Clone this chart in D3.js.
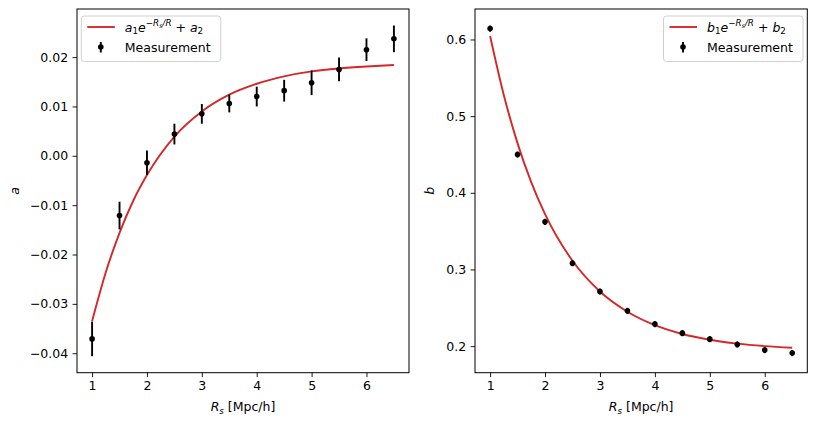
<!DOCTYPE html>
<html>
<head>
<meta charset="utf-8">
<script src="https://cdn.jsdelivr.net/npm/d3@7"></script>
<style>
  body { margin: 0; background: #fff; }
  text { font-family: "DejaVu Sans", sans-serif; fill: #000; }
</style>
</head>
<body>
<div id="chart"></div>
<script>
// measurement radii
const rs = [1, 1.5, 2, 2.5, 3, 3.5, 4, 4.5, 5, 5.5, 6, 6.5];
// left panel: a with error bars
const aValues = [-0.0371, -0.0121, -0.0014, 0.0044, 0.0085, 0.0106, 0.0120, 0.0132, 0.0148, 0.0175, 0.0215, 0.0237];
const aErrors = [0.0035, 0.0028, 0.0025, 0.0021, 0.0020, 0.0018, 0.0020, 0.0022, 0.0025, 0.0024, 0.0023, 0.0027];
// right panel: b (error bars hidden under the markers)
const bValues = [0.6142, 0.4499, 0.3621, 0.3082, 0.2713, 0.2460, 0.2287, 0.2169, 0.2091, 0.2022, 0.1948, 0.1909];
const bErrors = [0.004, 0.004, 0.004, 0.004, 0.004, 0.004, 0.004, 0.004, 0.004, 0.004, 0.004, 0.004];
// fitted curves
const fitX = [1, 1.25, 1.5, 1.75, 2, 2.5, 3, 3.5, 4, 4.5, 5, 5.5, 6, 6.5];
const aFit = [-0.0335, -0.0236, -0.0156, -0.0091, -0.0039, 0.0039, 0.0090, 0.0124, 0.0146, 0.0161, 0.0171, 0.0177, 0.0181, 0.0184];
const bFit = [0.6046, 0.5273, 0.4645, 0.4136, 0.3722, 0.3113, 0.2712, 0.2448, 0.2273, 0.2158, 0.2083, 0.2033, 0.2000, 0.1978];
const xTicks = [1, 2, 3, 4, 5, 6];
const aTicks = [-0.04, -0.03, -0.02, -0.01, 0.00, 0.01, 0.02];
const bTicks = [0.2, 0.3, 0.4, 0.5, 0.6];

const W = 817, H = 424;
const FS = 12.5;
const RED = "#d62728";

const svg = d3.select("#chart").append("svg")
  .attr("width", W).attr("height", H);

// mathtext-like label: parts = [text, size factor, baseline shift, italic]
function mathText(g, x, y, parts, anchor) {
  const t = g.append("text")
    .attr("x", x).attr("y", y)
    .attr("text-anchor", anchor || "start")
    .style("white-space", "pre");
  let cur = 0;
  parts.forEach(([s, k, shift, it]) => {
    t.append("tspan")
      .attr("dy", shift - cur)
      .attr("font-size", FS * k)
      .attr("font-style", it ? "italic" : "normal")
      .text(s);
    cur = shift;
  });
  return t;
}

function fitParts(sym) {
  return [
    [sym, 1, 0, true], ["1", 0.7, 2.8, false], ["e", 1, 0, true],
    ["−", 0.7, -5.5, false], ["R", 0.7, -5.5, true], ["s", 0.5, -3.8, true],
    ["/R", 0.7, -5.5, true], [" + ", 1, 0, false], [sym, 1, 0, true], ["2", 0.7, 2.8, false]
  ];
}

function panel(opts) {
  const { left, right, top, bottom, yVals, yErr, fit, yTicks, fmt, yLabel, yLabelX, legendX, sym } = opts;
  const g = svg.append("g");

  const x = d3.scaleLinear().domain([0.725, 6.775]).range([left, right]);
  const lo = d3.min(yVals, (d, i) => d - yErr[i]);
  const hi = d3.max(yVals, (d, i) => d + yErr[i]);
  const pad = (hi - lo) * 0.05;
  const y = d3.scaleLinear().domain([lo - pad, hi + pad]).range([bottom, top]);

  // fit line
  const line = d3.line()
    .x((d, i) => x(fitX[i]))
    .y((d) => y(d))
    .curve(d3.curveMonotoneX);
  g.append("path")
    .datum(fit)
    .attr("fill", "none")
    .attr("stroke", RED)
    .attr("stroke-width", 1.9)
    .attr("d", line);

  // error bars
  g.selectAll(".err")
    .data(yVals)
    .enter()
    .append("line")
    .attr("x1", (d, i) => x(rs[i]))
    .attr("x2", (d, i) => x(rs[i]))
    .attr("y1", (d, i) => y(d - yErr[i]))
    .attr("y2", (d, i) => y(d + yErr[i]))
    .attr("stroke", "#000")
    .attr("stroke-width", 1.9);

  g.selectAll(".pt")
    .data(yVals)
    .enter()
    .append("circle")
    .attr("cx", (d, i) => x(rs[i]))
    .attr("cy", (d) => y(d))
    .attr("r", 2.8)
    .attr("fill", "#000");

  // axes
  const xAxis = g.append("g")
    .attr("transform", `translate(0, ${bottom})`)
    .call(d3.axisBottom(x).tickValues(xTicks).tickFormat(d3.format("d")).tickSize(4.4).tickPadding(4.4));
  const yAxis = g.append("g")
    .attr("transform", `translate(${left}, 0)`)
    .call(d3.axisLeft(y).tickValues(yTicks).tickFormat(fmt).tickSize(4.4).tickPadding(4.4));
  [xAxis, yAxis].forEach((a) => {
    a.select(".domain").remove();
    a.selectAll("line").attr("stroke", "#000").attr("stroke-width", 0.9);
    a.selectAll("text").attr("font-size", FS).attr("font-family", "DejaVu Sans");
  });

  // frame
  g.append("rect")
    .attr("x", left).attr("y", top)
    .attr("width", right - left).attr("height", bottom - top)
    .attr("fill", "none").attr("stroke", "#000").attr("stroke-width", 1);

  // axis labels
  mathText(g, (left + right) / 2, bottom + 38,
    [["R", 1, 0, true], ["s", 0.7, 2.8, true], [" [Mpc/h]", 1, 0, false]], "middle");
  g.append("text")
    .attr("transform", `translate(${yLabelX}, ${(top + bottom) / 2}) rotate(-90)`)
    .attr("text-anchor", "middle")
    .attr("font-size", FS)
    .attr("font-style", "italic")
    .text(yLabel);

  // legend
  const lg = g.append("g").attr("transform", `translate(${legendX}, 16)`);
  lg.append("rect")
    .attr("width", 139.5).attr("height", 45.5)
    .attr("rx", 3).attr("ry", 3)
    .attr("fill", "#fff").attr("fill-opacity", 0.8)
    .attr("stroke", "#d0d0d0").attr("stroke-width", 1);
  lg.append("line")
    .attr("x1", 6).attr("x2", 33.5)
    .attr("y1", 11).attr("y2", 11)
    .attr("stroke", RED).attr("stroke-width", 1.9);
  mathText(lg, 43.5, 15.5, fitParts(sym));
  lg.append("line")
    .attr("x1", 19.5).attr("x2", 19.5)
    .attr("y1", 26).attr("y2", 36.5)
    .attr("stroke", "#000").attr("stroke-width", 1.9);
  lg.append("circle")
    .attr("cx", 19.5).attr("cy", 31).attr("r", 2.8).attr("fill", "#000");
  lg.append("text")
    .attr("x", 43.5).attr("y", 35.5)
    .attr("font-size", FS)
    .text("Measurement");
}

panel({
  left: 77, right: 409, top: 9, bottom: 372.7,
  yVals: aValues, yErr: aErrors, fit: aFit, yTicks: aTicks,
  fmt: d3.format(".2f"), yLabel: "a", yLabelX: 19, legendX: 81.3, sym: "a"
});
panel({
  left: 475, right: 807.3, top: 9, bottom: 372.7,
  yVals: bValues, yErr: bErrors, fit: bFit, yTicks: bTicks,
  fmt: d3.format(".1f"), yLabel: "b", yLabelX: 434, legendX: 663.5, sym: "b"
});
</script>
</body>
</html>
